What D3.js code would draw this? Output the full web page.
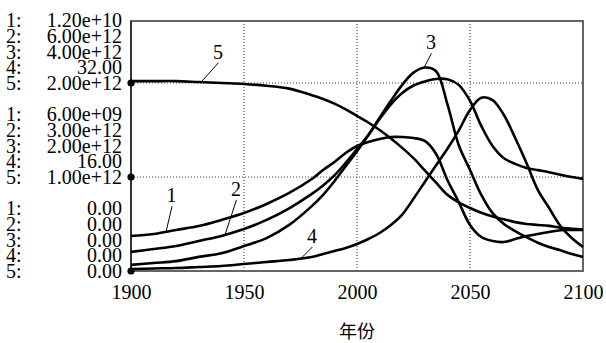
<!DOCTYPE html>
<html>
<head>
<meta charset="utf-8">
<script src="https://cdn.jsdelivr.net/npm/d3@7"></script>
<style>
  body { margin: 0; background: #fff; }
  svg { display: block; }
  .serif { font-family: "Liberation Serif", "DejaVu Serif", serif; font-size: 20px; }
  .cjk { font-family: "Noto Sans CJK SC", sans-serif; font-size: 18px; }
</style>
</head>
<body>
<div id="chart"></div>
<script>
// data
const years = [1900, 1910, 1920, 1930, 1940, 1950, 1960, 1970, 1980, 1985, 1990, 1995,
  2000, 2005, 2010, 2015, 2020, 2025, 2030, 2035, 2040, 2045, 2050, 2055, 2060,
  2065, 2070, 2075, 2080, 2085, 2090, 2095, 2100];

const series1 = [2.23, 2.36, 2.62, 2.87, 3.26, 3.70, 4.28, 4.98, 5.87, 6.45, 6.96, 7.53,
  7.98, 8.23, 8.43, 8.55, 8.55, 8.49, 8.30, 7.47, 5.81, 4.40, 2.94, 2.17, 1.91,
  1.85, 2.04, 2.23, 2.36, 2.49, 2.60, 2.62, 2.62].map(v => v * 1e9);
const series2 = [0.61, 0.70, 0.80, 0.96, 1.12, 1.34, 1.63, 2.00, 2.46, 2.73, 3.05, 3.45,
  3.89, 4.34, 4.85, 5.32, 5.68, 5.92, 6.05, 6.13, 6.12, 5.94, 5.43, 4.63, 3.99,
  3.60, 3.42, 3.29, 3.22, 3.15, 3.07, 3.00, 2.94].map(v => v * 1e12);
const series3 = [0.13, 0.17, 0.21, 0.30, 0.38, 0.53, 0.70, 0.98, 1.38, 1.62, 1.91, 2.23,
  2.55, 2.89, 3.26, 3.62, 3.96, 4.22, 4.33, 4.25, 3.55, 2.68, 2.15, 1.62, 1.23,
  1.00, 0.85, 0.72, 0.60, 0.51, 0.44, 0.36, 0.30].map(v => v * 1e12);
const series4 = [0.34, 0.43, 0.51, 0.68, 0.85, 1.19, 1.53, 1.87, 2.38, 2.89, 3.40, 3.91,
  4.60, 5.45, 6.47, 7.83, 9.60, 12.30, 15.15, 18.00, 20.80, 23.90, 27.40, 29.50, 29.10,
  26.55, 22.64, 18.38, 13.80, 10.72, 7.66, 5.62, 4.09];
const series5 = [2.02, 2.02, 2.02, 2.01, 2.00, 1.99, 1.97, 1.94, 1.87, 1.83, 1.78, 1.72,
  1.65, 1.58, 1.50, 1.41, 1.31, 1.20, 1.07, 0.94, 0.81, 0.73, 0.67, 0.62, 0.58,
  0.55, 0.52, 0.50, 0.49, 0.48, 0.46, 0.45, 0.44].map(v => v * 1e12);

// scale tops shown on the left axis
const scaleTops = [1.2e10, 6e12, 4e12, 32, 2e12];
const xTicks = [1900, 1950, 2000, 2050, 2100];
const gridYears = [1950, 2000, 2050];
const labelYears = [1915.5, 1941.6, 2029.6, 1975.2, 1931];
const xTitle = "年份";

const allSeries = [series1, series2, series3, series4, series5];

const width = 606, height = 343;
const margin = { top: 21, right: 23, bottom: 72, left: 131 };
const plotBottom = height - margin.bottom;   // 271
const plotTopGrid = 83;                      // where the scale tops sit

const svg = d3.select("#chart").append("svg")
  .attr("width", width)
  .attr("height", height)
  .style("background", "#fff");

const x = d3.scaleLinear().domain([1900, 2100]).range([margin.left, width - margin.right]);
const yScales = scaleTops.map(t => d3.scaleLinear().domain([0, t]).range([plotBottom, plotTopGrid]));
const yRef = yScales[0];

// dotted grid
const grid = svg.append("g")
  .attr("stroke", "#444")
  .attr("stroke-width", 1.2)
  .attr("stroke-dasharray", "1,2");
grid.selectAll("line.v")
  .data(gridYears)
  .join("line")
  .attr("class", "v")
  .attr("x1", d => x(d)).attr("x2", d => x(d))
  .attr("y1", margin.top).attr("y2", plotBottom);
grid.selectAll("line.h")
  .data([scaleTops[0], scaleTops[0] / 2])
  .join("line")
  .attr("class", "h")
  .attr("x1", margin.left).attr("x2", width - margin.right)
  .attr("y1", d => yRef(d)).attr("y2", d => yRef(d));

// frame
svg.append("rect")
  .attr("x", margin.left)
  .attr("y", margin.top)
  .attr("width", width - margin.left - margin.right)
  .attr("height", plotBottom - margin.top)
  .attr("fill", "none")
  .attr("stroke", "#555")
  .attr("stroke-width", 1.8);
svg.append("line")
  .attr("x1", margin.left).attr("x2", margin.left)
  .attr("y1", margin.top).attr("y2", plotBottom)
  .attr("stroke", "#222")
  .attr("stroke-width", 1.5);

// curves
allSeries.forEach((s, i) => {
  const line = d3.line()
    .x((d, j) => x(years[j]))
    .y(d => yScales[i](d))
    .curve(d3.curveCatmullRom.alpha(0.5));
  svg.append("path")
    .datum(s)
    .attr("fill", "none")
    .attr("stroke", "#000")
    .attr("stroke-width", 2.6)
    .attr("stroke-linejoin", "round")
    .attr("d", line);
});

// series number labels with leaders
const labelOffsets = [[5.5, -36.5], [11, -46], [7, -25.5], [11, -22.5], [17, -30.5]];
function valueAt(s, yr) {
  const j = Math.max(1, d3.bisectLeft(years, yr));
  const t = (yr - years[j - 1]) / (years[j] - years[j - 1]);
  return s[j - 1] + t * (s[j] - s[j - 1]);
}
labelYears.forEach((yr, i) => {
  const px = x(yr), py = yScales[i](valueAt(allSeries[i], yr));
  const [dx, dy] = labelOffsets[i];
  const cx = px + dx, cy = py + dy;
  svg.append("line")
    .attr("x1", px).attr("y1", py)
    .attr("x2", cx + 0.5).attr("y2", cy + 11)
    .attr("stroke", "#000")
    .attr("stroke-width", 1);
  svg.append("text")
    .attr("class", "serif")
    .attr("x", cx)
    .attr("y", cy + 7)
    .attr("text-anchor", "middle")
    .text(i + 1);
});

// left scale blocks
const fmtE = v => d3.format(".2e")(v).replace(/e([+-])(\d)$/, "e$10$2");
const fmtF = d3.format(".2f");
const blockFracs = [1, 0.5, 0];
blockFracs.forEach(f => {
  const yGrid = yRef(scaleTops[0] * f);
  scaleTops.forEach((t, i) => {
    const base = yGrid + 7 - (scaleTops.length - 1 - i) * 15.75;
    const v = t * f;
    const txt = v === 0 ? "0.00" : (i === 3 ? fmtF(v) : fmtE(v));
    svg.append("text")
      .attr("class", "serif")
      .attr("x", 6).attr("y", base)
      .text(`${i + 1}:`);
    svg.append("text")
      .attr("class", "serif")
      .attr("x", 122).attr("y", base)
      .attr("text-anchor", "end")
      .text(txt);
  });
  svg.append("circle")
    .attr("cx", margin.left)
    .attr("cy", yGrid)
    .attr("r", 3.6)
    .attr("fill", "#000");
});

// x axis labels
const xAxis = svg.append("g")
  .attr("transform", `translate(0,${plotBottom})`)
  .call(d3.axisBottom(x).tickValues(xTicks).tickSize(0).tickPadding(14).tickFormat(d3.format("d")));
xAxis.select(".domain").remove();
xAxis.attr("font-family", null).attr("font-size", null);
xAxis.selectAll("text")
  .attr("class", "serif")
  .attr("fill", "#000");

svg.append("text")
  .attr("class", "cjk")
  .attr("x", (margin.left + width - margin.right) / 2)
  .attr("y", 338)
  .attr("text-anchor", "middle")
  .text(xTitle);
</script>
</body>
</html>
